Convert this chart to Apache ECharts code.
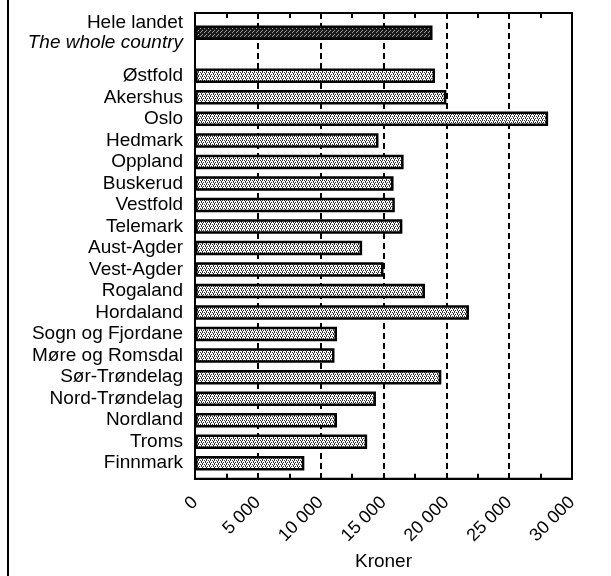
<!DOCTYPE html>
<html>
<head>
<meta charset="utf-8">
<script src="https://cdn.jsdelivr.net/npm/echarts@6/dist/echarts.min.js"></script>
<style>
  html, body { margin: 0; padding: 0; background: #fff; }
  #chart { width: 611px; height: 576px; }
</style>
</head>
<body>
<div id="chart"></div>
<script>
// data (kroner)
var wholeLabel = 'Hele landet';
var wholeSub = 'The whole country';
var wholeValue = 18900;

var counties = ['Østfold', 'Akershus', 'Oslo', 'Hedmark', 'Oppland', 'Buskerud',
    'Vestfold', 'Telemark', 'Aust-Agder', 'Vest-Agder', 'Rogaland', 'Hordaland',
    'Sogn og Fjordane', 'Møre og Romsdal', 'Sør-Trøndelag', 'Nord-Trøndelag',
    'Nordland', 'Troms', 'Finnmark'];
var countyValues = [19100, 20000, 28100, 14600, 16600, 15800,
    15900, 16500, 13300, 15000, 18300, 21800,
    11300, 11100, 19600, 14400,
    11300, 13700, 8700];

var tickValues = [0, 5000, 10000, 15000, 20000, 25000, 30000];

// stipple patterns for the bars
function makePattern(bg, fg, dots) {
    var c = document.createElement('canvas');
    c.width = 4; c.height = 4;
    var ctx = c.getContext('2d');
    ctx.fillStyle = bg;
    ctx.fillRect(0, 0, 4, 4);
    ctx.fillStyle = fg;
    for (var i = 0; i < dots.length; i++) {
        ctx.fillRect(dots[i][0], dots[i][1], 1, 1);
    }
    return { image: c, repeat: 'repeat' };
}
var lightFill = makePattern('#ffffff', '#333333', [[0,0],[2,0],[1,1],[3,2],[1,2],[2,3]]);
var darkFill = makePattern('#1a1a1a', '#9a9a9a', [[0,0],[2,2],[1,3]]);

var cats = [wholeLabel, ''].concat(counties);
var barData = [{ value: wholeValue, itemStyle: { color: darkFill } }, '-'];
for (var i = 0; i < countyValues.length; i++) {
    barData.push({ value: countyValues[i], itemStyle: { color: lightFill } });
}

function fmt(v) {
    if (v === 0) return '0';
    var s = String(v);
    return s.slice(0, s.length - 3) + ' ' + s.slice(-3);
}

var myChart = echarts.init(document.getElementById('chart'));
var font = '"Liberation Sans", Arial, Helvetica, sans-serif';

var option = {
    animation: false,
    backgroundColor: '#fff',
    textStyle: { fontFamily: font, color: '#000' },
    graphic: [{
        type: 'line',
        shape: { x1: 8, y1: 0, x2: 8, y2: 576 },
        style: { stroke: '#000', lineWidth: 2 }
    }],
    grid: [
        { left: 195, right: 39, top: 13, bottom: 95, show: true, borderColor: '#000', borderWidth: 2, backgroundColor: 'transparent' },
        { left: 195, right: 39, top: 22, bottom: 102 }
    ],
    xAxis: [{
        type: 'value', gridIndex: 0, position: 'bottom',
        min: tickValues[0], max: tickValues[tickValues.length - 1], interval: 5000,
        name: 'Kroner', nameLocation: 'middle', nameGap: 64,
        nameTextStyle: { fontSize: 19, color: '#000', fontFamily: font },
        axisLine: { show: true, lineStyle: { color: '#000', width: 2 } },
        axisTick: { show: true, inside: true, length: 5, lineStyle: { color: '#000', width: 2 } },
        minorTick: { show: true, splitNumber: 2, length: 5, lineStyle: { color: '#000', width: 2 } },
        splitLine: { show: true, lineStyle: { color: '#000', width: 2, type: [6, 4] } },
        axisLabel: { rotate: 45, margin: 21, fontSize: 18, color: '#000', fontFamily: font, formatter: fmt }
    }, {
        type: 'value', gridIndex: 0, position: 'top',
        min: tickValues[0], max: tickValues[tickValues.length - 1], interval: 5000,
        axisLine: { show: false },
        axisTick: { show: true, inside: true, length: 5, lineStyle: { color: '#000', width: 2 } },
        minorTick: { show: true, splitNumber: 2, length: 5, lineStyle: { color: '#000', width: 2 } },
        splitLine: { show: false },
        axisLabel: { show: false }
    }, {
        type: 'value', gridIndex: 1,
        min: tickValues[0], max: tickValues[tickValues.length - 1],
        show: false
    }],
    yAxis: [{
        type: 'value', gridIndex: 0, show: false
    }, {
        type: 'category', gridIndex: 1, inverse: true,
        data: cats,
        axisLine: { show: false },
        axisTick: { show: false },
        splitLine: { show: false },
        axisLabel: {
            margin: 12, fontSize: 19, color: '#000', fontFamily: font, interval: 0,
            formatter: function (v) {
                if (v === wholeLabel) return '{a|' + wholeLabel + '}\n{b|' + wholeSub + '}';
                return v;
            },
            rich: {
                a: { fontSize: 19, fontFamily: font, color: '#000', lineHeight: 20, align: 'right' },
                b: { fontSize: 19, fontFamily: font, color: '#000', fontStyle: 'italic', lineHeight: 20, align: 'right' }
            }
        }
    }],
    series: [{
        type: 'bar',
        xAxisIndex: 2, yAxisIndex: 1,
        barWidth: 14.5,
        itemStyle: { borderColor: '#000', borderWidth: 2.5 },
        data: barData
    }]
};
myChart.setOption(option);
</script>
</body>
</html>
